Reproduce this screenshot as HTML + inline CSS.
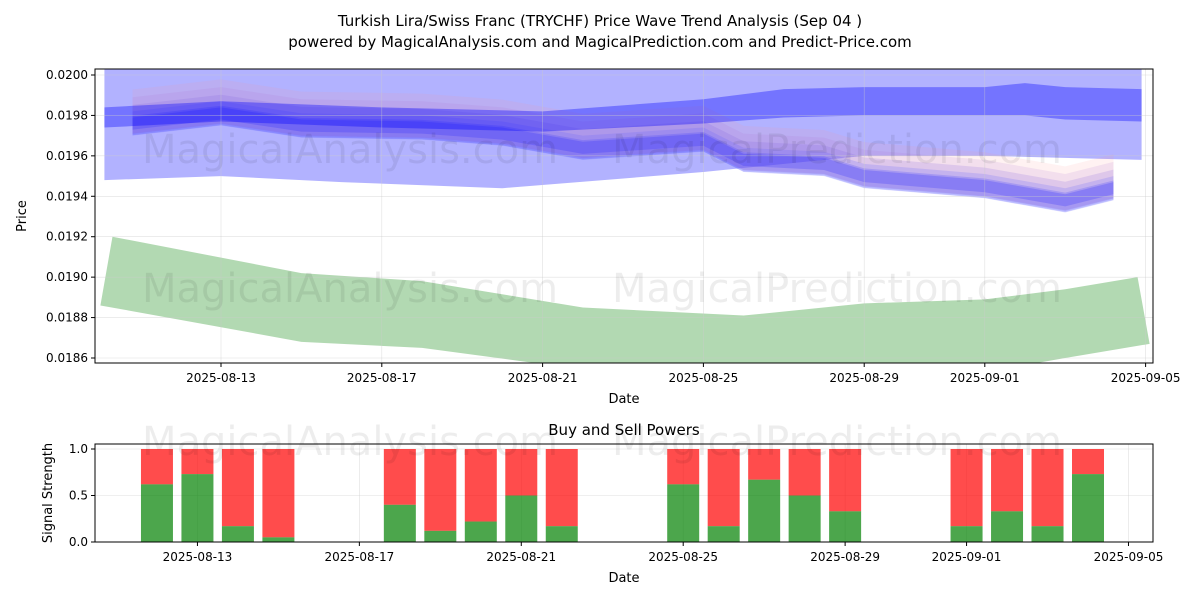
<!DOCTYPE html>
<html><head><meta charset="utf-8"><style>
body{margin:0;background:#fff;font-family:"Liberation Sans","DejaVu Sans",sans-serif}
svg text{font-family:"DejaVu Sans","Liberation Sans",sans-serif}
</style></head><body>
<svg id="c" width="1200" height="600" xmlns="http://www.w3.org/2000/svg">
<text x="600" y="26" text-anchor="middle" font-size="15">Turkish Lira/Swiss Franc (TRYCHF) Price Wave Trend Analysis (Sep 04 )</text>
<text x="600" y="47" text-anchor="middle" font-size="15">powered by MagicalAnalysis.com and MagicalPrediction.com and Predict-Price.com</text>
<defs><clipPath id="cp1"><rect x="95" y="69" width="1058" height="294"/></clipPath></defs>
<g id="topPlot" clip-path="url(#cp1)"></g>
<g id="topAxes"></g>
<g id="bot"></g>
</svg>
<script>
const NS="http://www.w3.org/2000/svg";
function mk(p,t,a){const e=document.createElementNS(NS,t);for(const k in a)e.setAttribute(k,a[k]);p.appendChild(e);return e;}
const svg=document.getElementById('c');
// ---- data ----
const xTickLabels=["2025-08-13","2025-08-17","2025-08-21","2025-08-25","2025-08-29","2025-09-01","2025-09-05"];
const xTickDays=[3,7,11,15,19,22,26]; // days since Aug 10
const yTickLabels=["0.0186","0.0188","0.0190","0.0192","0.0194","0.0196","0.0198","0.0200"];
const wideDays=[0.1,3,6,10,15,19,22,25.9];
const wideUpper=[0.02005,0.02005,0.02005,0.02005,0.02005,0.02005,0.02005,0.02005];
const wideLower=[0.01948,0.01950,0.01947,0.01944,0.01952,0.01960,0.01960,0.01958];
const trendDays=[0.1,3,7,11,15,17,19,22,23,24,25.9];
const trendCenter=[0.01979,0.01982,0.01979,0.01977,0.01982,0.01986,0.01987,0.01987,0.01988,0.01986,0.01985];
const trendHalf=[0.00005,0.00005,0.00005,0.00005,0.00006,0.00007,0.00007,0.00007,0.00008,0.00008,0.00008];
const priceDays=[0.8,3,5,8,10,12,15,16,18,19,22,24,25.2];
const priceCenter=[0.01978,0.01983,0.01977,0.01976,0.01973,0.01966,0.01970,0.01960,0.01958,0.01952,0.01947,0.01940,0.01946];
const greenUpDays=[0.3,5,8,12,16,19,22,24,25.8];
const greenUpper=[0.01920,0.01902,0.01898,0.01885,0.01881,0.01887,0.01889,0.01894,0.01900];
const greenLoDays=[0,5,8,11,16,22,24,26.1];
const greenLower=[0.01886,0.01868,0.01865,0.01857,0.01850,0.01853,0.01860,0.01867];
const barDays=[2,3,4,5,8,9,10,11,12,15,16,17,18,19,22,23,24,25];
const buyPower=[0.62,0.73,0.17,0.05,0.4,0.12,0.22,0.5,0.17,0.62,0.17,0.67,0.5,0.33,0.17,0.33,0.17,0.73];
// ---- scales ----
const X=d=>100.4+d*40.2;
const Y=v=>358-(v-0.0186)/0.0002*40.43;
const XB=d=>76+d*40.48;
const YB=v=>542-v*93;
const topG=document.getElementById('topPlot'),axG=document.getElementById('topAxes'),botG=document.getElementById('bot');
function band(days,up,lo,dl,fill,op,name){
  let p="M"+days.map((d,i)=>X(d)+","+Y(up[i])).join(" L");
  p+=" L"+dl.map((d,i)=>[d,i]).reverse().map(([d,i])=>X(d)+","+Y(lo[i])).join(" L")+" Z";
  const e=mk(topG,'path',{d:p,fill:fill,'fill-opacity':op});
  
  
}
band(wideDays,wideUpper,wideLower,wideDays,'#0000ff',0.3,'wide-band');
band(greenUpDays,greenUpper,greenLower,greenLoDays,'#008000',0.3,'green-band');
const layers=[[0.00018,0.00004,'#ff9090',0.12],[0.00015,0.00002,'#b070d0',0.15],[0.00012,0,'#8060e0',0.18],[0.0001,-0.00002,'#6060ff',0.2],[0.00008,-0.00003,'#3030ff',0.2],[0.00005,-0.00002,'#2020ff',0.22]];
layers.forEach((L,k)=>{
  const up=priceCenter.map(v=>v+L[0]*0.6+L[1]);
  const lo=priceCenter.map(v=>v-L[0]*0.6+L[1]);
  band(priceDays,up,lo,priceDays,L[2],L[3],'price-wave-'+k);
});
band(trendDays,trendCenter.map((v,i)=>v+trendHalf[i]),trendCenter.map((v,i)=>v-trendHalf[i]),trendDays,'#0000ff',0.35,'trend-band');
[[350,302],[837,302],[350,163],[837,163],[350,455],[837,455]].forEach((p,i)=>{
  const t=mk(svg,'text',{x:p[0],y:p[1],'text-anchor':'middle','font-size':40,fill:'#000','fill-opacity':0.07});
  t.textContent=i%2?"MagicalPrediction.com":"MagicalAnalysis.com";
  
  
});
xTickDays.forEach((d,i)=>{
  const x=X(d);
  mk(axG,'line',{x1:x,x2:x,y1:69,y2:363,stroke:'#ccc','stroke-width':0.6,'stroke-opacity':0.6});
  mk(axG,'line',{x1:x,x2:x,y1:363,y2:367,stroke:'#000'});
  const t=mk(axG,'text',{x:x,y:382,'text-anchor':'middle','font-size':12});t.textContent=xTickLabels[i];
  
  
});
yTickLabels.forEach(s=>{
  const y=Y(parseFloat(s));
  mk(axG,'line',{x1:95,x2:1153,y1:y,y2:y,stroke:'#ccc','stroke-width':0.6,'stroke-opacity':0.6});
  mk(axG,'line',{x1:91,x2:95,y1:y,y2:y,stroke:'#000'});
  const t=mk(axG,'text',{x:88,y:y+4,'text-anchor':'end','font-size':12});t.textContent=s;
  
  
});
mk(axG,'rect',{x:95,y:69,width:1058,height:294,fill:'none',stroke:'#000','stroke-width':1});
let t=mk(axG,'text',{x:624,y:403,'text-anchor':'middle','font-size':13});t.textContent="Date";

t=mk(axG,'text',{x:26,y:216,'text-anchor':'middle','font-size':13,transform:'rotate(-90 26 216)'});t.textContent="Price";

t=mk(botG,'text',{x:624,y:435,'text-anchor':'middle','font-size':15});t.textContent="Buy and Sell Powers";

[0,0.5,1].forEach(v=>{
  const y=YB(v);
  mk(botG,'line',{x1:95,x2:1153,y1:y,y2:y,stroke:'#ccc','stroke-width':0.6,'stroke-opacity':0.6});
  mk(botG,'line',{x1:91,x2:95,y1:y,y2:y,stroke:'#000'});
  const tt=mk(botG,'text',{x:88,y:y+4,'text-anchor':'end','font-size':12});tt.textContent=v.toFixed(1);
  
});
xTickDays.forEach((d,i)=>{
  const x=XB(d);
  mk(botG,'line',{x1:x,x2:x,y1:444,y2:542,stroke:'#ccc','stroke-width':0.6,'stroke-opacity':0.6});
  mk(botG,'line',{x1:x,x2:x,y1:542,y2:546,stroke:'#000'});
  const tt=mk(botG,'text',{x:x,y:561,'text-anchor':'middle','font-size':12});tt.textContent=xTickLabels[i];
  
});
barDays.forEach((d,i)=>{
  const x=XB(d)-16,b=buyPower[i];
  const r=mk(botG,'rect',{x:x,y:YB(1),width:32,height:YB(b)-YB(1),fill:'#ff0000','fill-opacity':0.7});
  
  const g=mk(botG,'rect',{x:x,y:YB(b),width:32,height:YB(0)-YB(b),fill:'#008000','fill-opacity':0.7});
  
});
mk(botG,'rect',{x:95,y:444,width:1058,height:98,fill:'none',stroke:'#000','stroke-width':1});
t=mk(botG,'text',{x:624,y:582,'text-anchor':'middle','font-size':13});t.textContent="Date";

t=mk(botG,'text',{x:52,y:493,'text-anchor':'middle','font-size':13,transform:'rotate(-90 52 493)'});t.textContent="Signal Strength";

</script>
</body></html>
